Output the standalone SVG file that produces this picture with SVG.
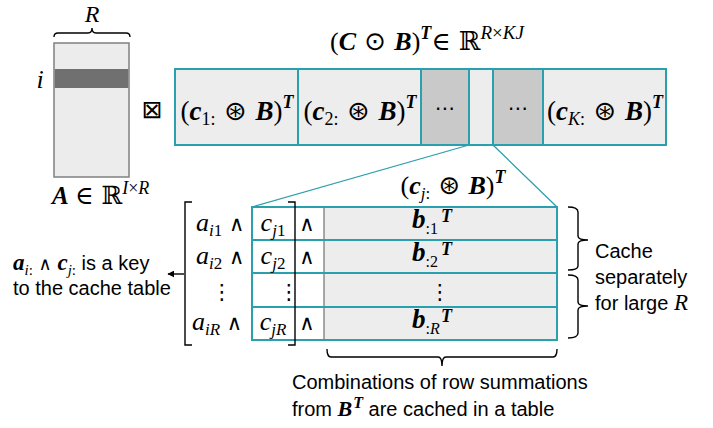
<svg xmlns="http://www.w3.org/2000/svg" width="713" height="428" viewBox="0 0 713 428">
<style>
.m{font-family:"Liberation Serif","DejaVu Serif",serif;fill:#000}
.sym{font-family:"DejaVu Sans",sans-serif}
.ds{font-family:"DejaVu Serif",serif}
.bi{font-weight:bold;font-style:italic}
.it{font-style:italic}
.t{font-family:"Liberation Sans","Open Sans",sans-serif;fill:#000}
.teal{stroke:#2a9fae;fill:none}
.br{stroke:#000;fill:none;stroke-width:1.4}
.cell{fill:#ededed;stroke:#2a9fae;stroke-width:2}
.gcell{fill:#c9c9c9;stroke:#2a9fae;stroke-width:2}
</style>
<defs>
<marker id="ah" viewBox="0 0 10 10" refX="9" refY="5" markerWidth="7" markerHeight="7" orient="auto" markerUnits="userSpaceOnUse"><path d="M0,0 L10,5 L0,10 z" fill="#000"/></marker>
</defs>
<rect width="713" height="428" fill="#fff"/>

<g id="matrixA">
<rect x="54" y="43" width="75" height="134" fill="#ececec" stroke="#808080" stroke-width="1.5"/>
<rect x="54.75" y="69" width="73.5" height="19" fill="#707070"/>
<path class="br" d="M54,37 Q54,33 58,33 H88 Q92,33 92,28 Q92,33 96,33 H126 Q130,33 130,37"/>
<text class="m it" x="92" y="22" font-size="24" text-anchor="middle">R</text>
<text class="m it" x="40" y="88" font-size="26" text-anchor="middle">i</text>
<text class="m" x="52" y="204" font-size="25"><tspan class="bi">A</tspan> <tspan class="ds">∈ ℝ</tspan><tspan class="it" font-size="18" dy="-10">I</tspan><tspan font-size="18">×</tspan><tspan class="it" font-size="18">R</tspan></text>
</g>

<g id="boxtimes">
<text class="sym" x="152" y="118" font-size="25" text-anchor="middle">⊠</text>
</g>

<g id="khatri">
<text class="m" x="330" y="50" font-size="26">(<tspan class="bi">C</tspan><tspan class="sym"> ⊙ </tspan><tspan class="bi">B</tspan>)<tspan class="bi" font-size="18" dy="-11">T</tspan><tspan class="ds" dy="11">∈ ℝ</tspan><tspan class="it" font-size="19" dy="-11">R</tspan><tspan font-size="19">×</tspan><tspan class="it" font-size="19">KJ</tspan></text>
<rect class="cell" x="175" y="69" width="123" height="76"/>
<rect class="cell" x="298" y="69" width="123" height="76"/>
<rect class="gcell" x="421" y="69" width="48" height="76"/>
<rect class="cell" x="469" y="69" width="24" height="76"/>
<rect class="gcell" x="493" y="69" width="50" height="76"/>
<rect class="cell" x="543" y="69" width="123" height="76"/>
<text class="m" x="237" y="120" font-size="27" text-anchor="middle">(<tspan class="bi">c</tspan><tspan font-size="18" dy="5">1:</tspan><tspan class="sym" dy="-5"> ⊛ </tspan><tspan class="bi">B</tspan>)<tspan class="bi" font-size="18" dy="-12">T</tspan></text>
<text class="m" x="360" y="120" font-size="27" text-anchor="middle">(<tspan class="bi">c</tspan><tspan font-size="18" dy="5">2:</tspan><tspan class="sym" dy="-5"> ⊛ </tspan><tspan class="bi">B</tspan>)<tspan class="bi" font-size="18" dy="-12">T</tspan></text>
<text class="sym" x="445" y="115" font-size="20" text-anchor="middle">⋯</text>
<text class="sym" x="518" y="115" font-size="20" text-anchor="middle">⋯</text>
<text class="m" x="605" y="120" font-size="27" text-anchor="middle">(<tspan class="bi">c</tspan><tspan class="it" font-size="18" dy="5">K</tspan><tspan font-size="18">:</tspan><tspan class="sym" dy="-5"> ⊛ </tspan><tspan class="bi">B</tspan>)<tspan class="bi" font-size="18" dy="-12">T</tspan></text>
</g>

<g id="connectors">
<line class="teal" stroke-width="1.3" x1="469" y1="145" x2="252" y2="207"/>
<line class="teal" stroke-width="1.3" x1="493" y1="145" x2="557" y2="207"/>
<line x1="184" y1="274" x2="168" y2="274" stroke="#000" stroke-width="1.4" marker-end="url(#ah)"/>
</g>

<g id="table">
<text class="m" x="453" y="194" font-size="26" text-anchor="middle">(<tspan class="bi">c</tspan><tspan class="it" font-size="17" dy="5">j</tspan><tspan font-size="17">:</tspan><tspan class="sym" dy="-5"> ⊛ </tspan><tspan class="bi">B</tspan>)<tspan class="bi" font-size="18" dy="-11">T</tspan></text>
<rect x="252" y="207" width="72" height="133" fill="#fff"/>
<rect x="324" y="207" width="233" height="133" fill="#ededed"/>
<line x1="324" y1="207" x2="324" y2="340" stroke="#707070" stroke-width="1.2"/>
<g class="teal" stroke-width="2">
<path d="M252,207 H557 V340 H252 Z"/>
<line x1="252" y1="240" x2="557" y2="240"/>
<line x1="252" y1="273" x2="557" y2="273"/>
<line x1="252" y1="307" x2="557" y2="307"/>
</g>
<path class="br" d="M192,202 H185 V345 H192"/>
<path class="br" d="M288,202 H295 V345 H288"/>

<text class="m" x="196" y="231" font-size="26"><tspan class="it">a</tspan><tspan font-size="17" dy="5"><tspan class="it">i</tspan>1</tspan><tspan class="ds" font-size="21" dy="-5"> ∧</tspan></text>
<text class="m" x="196" y="264" font-size="26"><tspan class="it">a</tspan><tspan font-size="17" dy="5"><tspan class="it">i</tspan>2</tspan><tspan class="ds" font-size="21" dy="-5"> ∧</tspan></text>
<text class="sym" x="222" y="299" font-size="21" text-anchor="middle">⋮</text>
<text class="m" x="192" y="330" font-size="26"><tspan class="it">a</tspan><tspan class="it" font-size="17" dy="5">iR</tspan><tspan class="ds" font-size="21" dy="-5"> ∧</tspan></text>

<text class="m" x="273" y="231" font-size="26" text-anchor="middle"><tspan class="it">c</tspan><tspan font-size="17" dy="5"><tspan class="it">j</tspan>1</tspan></text>
<text class="m" x="273" y="264" font-size="26" text-anchor="middle"><tspan class="it">c</tspan><tspan font-size="17" dy="5"><tspan class="it">j</tspan>2</tspan></text>
<text class="sym" x="289" y="299" font-size="21" text-anchor="middle">⋮</text>
<text class="m" x="273" y="330" font-size="26" text-anchor="middle"><tspan class="it">c</tspan><tspan class="it" font-size="17" dy="5">jR</tspan></text>

<text class="ds" x="307" y="231" font-size="21" text-anchor="middle">∧</text>
<text class="ds" x="307" y="264" font-size="21" text-anchor="middle">∧</text>
<text class="ds" x="307" y="330" font-size="21" text-anchor="middle">∧</text>

<text class="m" x="412" y="228" font-size="27"><tspan class="bi">b</tspan><tspan font-size="16" dy="6">:1</tspan><tspan class="bi" font-size="18" x="441" dy="-12">T</tspan></text>
<text class="m" x="412" y="261" font-size="27"><tspan class="bi">b</tspan><tspan font-size="16" dy="6">:2</tspan><tspan class="bi" font-size="18" x="441" dy="-12">T</tspan></text>
<text class="sym" x="440" y="299" font-size="21" text-anchor="middle">⋮</text>
<text class="m" x="412" y="328" font-size="27"><tspan class="bi">b</tspan><tspan font-size="16" dy="6">:<tspan class="it">R</tspan></tspan><tspan class="bi" font-size="18" x="441" dy="-12">T</tspan></text>
</g>

<g id="cacheNote">
<path class="br" d="M568,207 Q578,207 578,212 V236 Q578,240 588,240 Q578,240 578,244 V266 Q578,270 568,270"/>
<path class="br" d="M568,275 Q578,275 578,280 V302 Q578,306 588,306 Q578,306 578,310 V333 Q578,338 568,338"/>
<text class="t" x="595" y="258" font-size="20">Cache</text>
<text class="t" x="595" y="284" font-size="20">separately</text>
<text class="t" x="595" y="310" font-size="20">for large <tspan class="m it" font-size="23">R</tspan></text>
</g>

<g id="combNote">
<path class="br" d="M327,349 Q327,357 331,357 H438 Q442,357 442,366 Q442,357 446,357 H553 Q557,357 557,349"/>
<text class="t" x="292" y="389" font-size="20">Combinations of row summations</text>
<text class="t" x="292" y="416" font-size="20">from <tspan class="m bi" font-size="22">B</tspan><tspan class="m bi" font-size="16" dx="1" dy="-8">T</tspan><tspan dy="8"> are cached in a table</tspan></text>
</g>

<g id="keyNote">
<text class="t" x="13" y="270" font-size="20"><tspan class="m bi" font-size="23">a</tspan><tspan class="m it" font-size="15" dy="5">i</tspan><tspan class="m" font-size="15">:</tspan><tspan class="ds" font-size="18" dy="-5"> ∧ </tspan><tspan class="m bi" font-size="23">c</tspan><tspan class="m it" font-size="15" dy="5">j</tspan><tspan class="m" font-size="15">:</tspan><tspan dy="-5"> is a key</tspan></text>
<text class="t" x="13" y="295" font-size="20">to the cache table</text>
</g>
</svg>
